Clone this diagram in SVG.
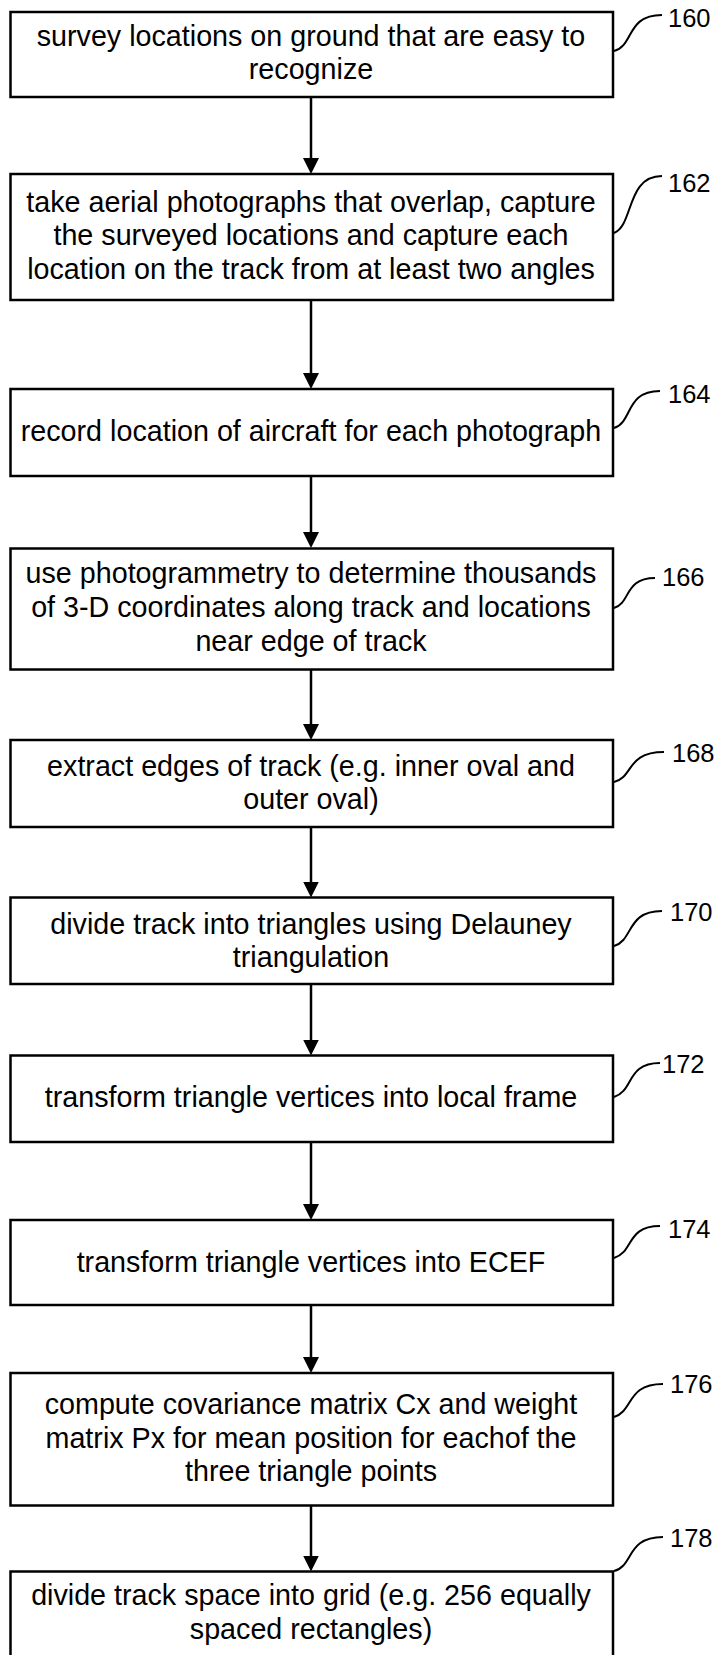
<svg xmlns="http://www.w3.org/2000/svg" width="717" height="1655" viewBox="0 0 717 1655">
<style>
.box{fill:#fff;stroke:#000;stroke-width:2.5}
.t{font-family:"Liberation Sans",Arial,sans-serif;font-size:28.7px;fill:#000;text-anchor:middle}
.lbl{font-family:"Liberation Sans",Arial,sans-serif;font-size:25.5px;fill:#000}
.sq{fill:none;stroke:#000;stroke-width:2}
.conn line{stroke:#000;stroke-width:2.5;marker-end:url(#ah)}
</style>
<defs>
<marker id="ah" markerUnits="userSpaceOnUse" markerWidth="16" markerHeight="16" viewBox="0 0 16 16" refX="11" refY="8" orient="auto">
<path d="M0,0 L16,8 L0,16 z" fill="#000"/>
</marker>
</defs>
<rect width="717" height="1655" fill="#fff"/>
<g id="connectors" class="conn">
<line x1="311" y1="97" x2="311" y2="169"/>
<line x1="311" y1="300" x2="311" y2="384"/>
<line x1="311" y1="476" x2="311" y2="543"/>
<line x1="311" y1="669" x2="311" y2="735"/>
<line x1="311" y1="827" x2="311" y2="892.5"/>
<line x1="311" y1="984" x2="311" y2="1050.5"/>
<line x1="311" y1="1142" x2="311" y2="1215"/>
<line x1="311" y1="1305" x2="311" y2="1368"/>
<line x1="311" y1="1505.5" x2="311" y2="1566.5"/>
</g>
<g id="n160">
<rect class="box" x="10.5" y="12" width="602.5" height="85"/>
<text class="t"><tspan x="311" y="46">survey locations on ground that are easy to</tspan><tspan x="311" y="79">recognize</tspan></text>
<path class="sq" d="M614,51 C634,46 626,15 662,15"/>
<text class="lbl" x="668" y="26.5">160</text>
</g>
<g id="n162">
<rect class="box" x="10.5" y="174" width="602.5" height="126"/>
<text class="t"><tspan x="311" y="211.5">take aerial photographs that overlap, capture</tspan><tspan x="311" y="245">the surveyed locations and capture each</tspan><tspan x="311" y="278.5">location on the track from at least two angles</tspan></text>
<path class="sq" d="M614,233 C634,225 626,176 662,176"/>
<text class="lbl" x="668" y="191.5">162</text>
</g>
<g id="n164">
<rect class="box" x="10.5" y="389" width="602.5" height="87"/>
<text class="t" x="311" y="441">record location of aircraft for each photograph</text>
<path class="sq" d="M614,428 C633,422 625,391 660,391"/>
<text class="lbl" x="668" y="403">164</text>
</g>
<g id="n166">
<rect class="box" x="10.5" y="548.5" width="602.5" height="121"/>
<text class="t"><tspan x="311" y="582.5">use photogrammetry to determine thousands</tspan><tspan x="311" y="617">of 3-D coordinates along track and locations</tspan><tspan x="311" y="651">near edge of track</tspan></text>
<path class="sq" d="M614,608 C631,603 624,578 655,578"/>
<text class="lbl" x="662" y="586">166</text>
</g>
<g id="n168">
<rect class="box" x="10.5" y="740" width="602.5" height="87"/>
<text class="t"><tspan x="311" y="776">extract edges of track (e.g. inner oval and</tspan><tspan x="311" y="809">outer oval)</tspan></text>
<path class="sq" d="M614,782 C634,777 626,752 664,752"/>
<text class="lbl" x="672" y="761.5">168</text>
</g>
<g id="n170">
<rect class="box" x="10.5" y="897.5" width="602.5" height="86.5"/>
<text class="t"><tspan x="311" y="933.5">divide track into triangles using Delauney</tspan><tspan x="311" y="966.5">triangulation</tspan></text>
<path class="sq" d="M614,946 C634,940 626,911 662,911"/>
<text class="lbl" x="670" y="920.5">170</text>
</g>
<g id="n172">
<rect class="box" x="10.5" y="1055.5" width="602.5" height="86.5"/>
<text class="t" x="311" y="1107">transform triangle vertices into local frame</text>
<path class="sq" d="M614,1097 C634,1091 626,1063 660,1063"/>
<text class="lbl" x="662" y="1072.5">172</text>
</g>
<g id="n174">
<rect class="box" x="10.5" y="1220" width="602.5" height="85"/>
<text class="t" x="311" y="1271.5">transform triangle vertices into ECEF</text>
<path class="sq" d="M614,1258 C634,1252 626,1226 660,1226"/>
<text class="lbl" x="668" y="1237.5">174</text>
</g>
<g id="n176">
<rect class="box" x="10.5" y="1373" width="602.5" height="132.5"/>
<text class="t"><tspan x="311" y="1414">compute covariance matrix Cx and weight</tspan><tspan x="311" y="1447.5">matrix Px for mean position for eachof the</tspan><tspan x="311" y="1481">three triangle points</tspan></text>
<path class="sq" d="M614,1417 C634,1411 626,1384 663,1384"/>
<text class="lbl" x="670" y="1392.5">176</text>
</g>
<g id="n178">
<rect class="box" x="10.5" y="1571.5" width="602.5" height="100"/>
<text class="t"><tspan x="311" y="1605">divide track space into grid (e.g. 256 equally</tspan><tspan x="311" y="1638.5">spaced rectangles)</tspan></text>
<path class="sq" d="M614,1571 C634,1566 626,1537 663,1537"/>
<text class="lbl" x="670" y="1546.5">178</text>
</g>
</svg>
